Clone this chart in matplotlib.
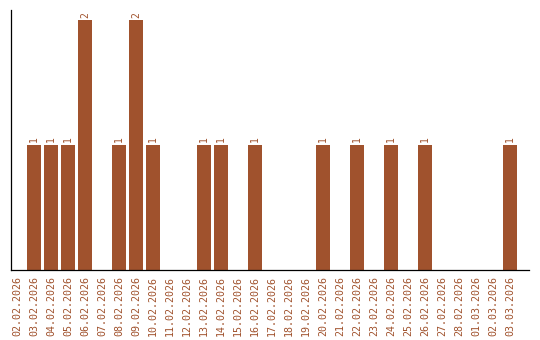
import matplotlib
matplotlib.use("Agg")
import matplotlib.pyplot as plt

dates = ["02.02.2026", "03.02.2026", "04.02.2026", "05.02.2026", "06.02.2026",
         "07.02.2026", "08.02.2026", "09.02.2026", "10.02.2026", "11.02.2026",
         "12.02.2026", "13.02.2026", "14.02.2026", "15.02.2026", "16.02.2026",
         "17.02.2026", "18.02.2026", "19.02.2026", "20.02.2026", "21.02.2026",
         "22.02.2026", "23.02.2026", "24.02.2026", "25.02.2026", "26.02.2026",
         "27.02.2026", "28.02.2026", "01.03.2026", "02.03.2026", "03.03.2026"]
counts = [0, 1, 1, 1, 2, 0, 1, 2, 1, 0, 0, 1, 1, 0, 1,
          0, 0, 0, 1, 0, 1, 0, 1, 0, 1, 0, 0, 0, 0, 1]

color = "#A0522D"
fig = plt.figure(figsize=(5.4, 3.4), dpi=100)
ax = fig.add_axes([10.5/540, 1 - 270/340, (529-10.5)/540, 260/340])
x = list(range(len(dates)))
ax.bar(x, counts, width=0.82, color=color)
for xi, c in zip(x, counts):
    if c > 0:
        ax.text(xi, c + 0.02, str(c), rotation=90, ha="center", va="bottom",
                color=color, fontsize=7, family="DejaVu Sans Mono")
ax.set_xlim(-0.38, 30.1)
ax.set_ylim(0, 2.08)
ax.set_xticks(x)
ax.set_xticklabels(dates, rotation=90, color=color, fontsize=7.2, family="DejaVu Sans Mono")
ax.tick_params(axis="x", length=0, pad=4)
ax.set_yticks([])
ax.spines["top"].set_visible(False)
ax.spines["right"].set_visible(False)
ax.spines["left"].set_linewidth(0.9)
ax.spines["bottom"].set_linewidth(0.9)
fig.savefig("out.png", dpi=100)
